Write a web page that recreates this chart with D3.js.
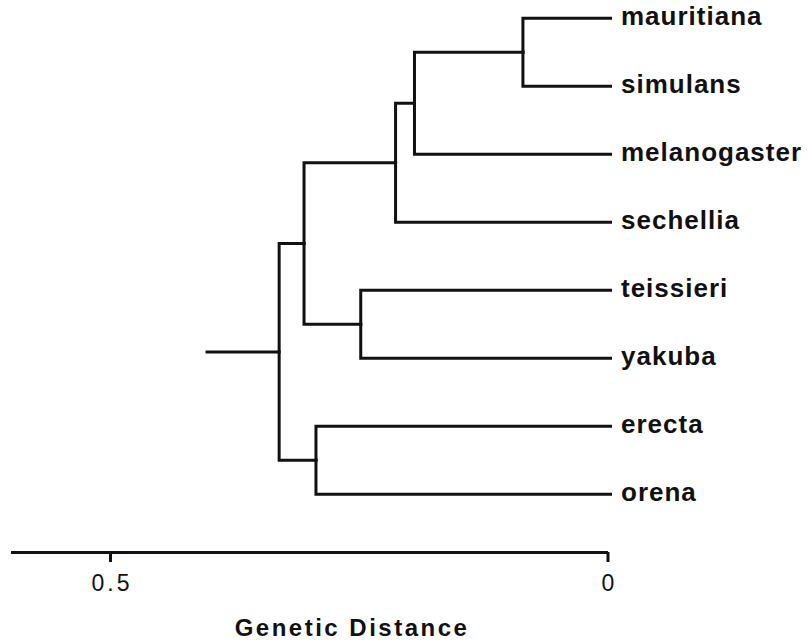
<!DOCTYPE html>
<html>
<head>
<meta charset="utf-8">
<script src="https://cdn.jsdelivr.net/npm/d3@7"></script>
<style>
  body { margin: 0; background: #fff; }
  svg { display: block; }
  .label { font-family: "Liberation Sans", Arial, sans-serif; font-weight: bold; font-size: 26px; letter-spacing: 1px; fill: #111; }
  .axis text { font-family: "Liberation Sans", Arial, sans-serif; font-size: 23px; letter-spacing: 3px; fill: #111; }
  .title { font-family: "Liberation Sans", Arial, sans-serif; font-weight: bold; font-size: 24px; letter-spacing: 2.5px; fill: #111; }
</style>
</head>
<body>
<svg id="chart" width="807" height="641"></svg>
<script>
// leaves, top to bottom
const species = ['mauritiana', 'simulans', 'melanogaster', 'sechellia',
                 'teissieri', 'yakuba', 'erecta', 'orena'];

// internal nodes: name, the two things they join, and their genetic distance
const cladeNames = ['A', 'B', 'C', 'D', 'E', 'F', 'R'];
const cladeChildren = [
  ['mauritiana', 'simulans'],
  ['A', 'melanogaster'],
  ['B', 'sechellia'],
  ['teissieri', 'yakuba'],
  ['C', 'D'],
  ['erecta', 'orena'],
  ['E', 'F']
];
const cladeDistance = [0.085, 0.194, 0.213, 0.248, 0.305, 0.293, 0.330];

// where the stem of the root starts
const rootStem = 0.404;

const axisTicks = [0.5, 0];
const axisDomain = [0.6, 0];

const svg = d3.select('#chart');
const ink = '#111';

// table for stratify
const rows = [];
cladeNames.forEach((name, i) => {
  cladeChildren[i].forEach(c => rows.push({ id: c, parent: name, dist: 0 }));
});
rows.forEach(r => {
  const k = cladeNames.indexOf(r.id);
  if (k >= 0) r.dist = cladeDistance[k];
});
rows.push({ id: 'R', parent: null, dist: cladeDistance[cladeNames.indexOf('R')] });

const root = d3.stratify().id(d => d.id).parentId(d => d.parent)(rows);

// keep leaf order as in the picture
const order = new Map(species.map((s, i) => [s, i]));
const firstLeaf = n => n.children ? Math.min(...n.leaves().map(l => order.get(l.id))) : order.get(n.id);
root.sort((a, b) => firstLeaf(a) - firstLeaf(b));

// cluster gives evenly spaced leaves and parents at the middle of their children
const rowGap = 68;
d3.cluster().nodeSize([rowGap, 1]).separation(() => 1)(root);

const x = d3.scaleLinear().domain(axisDomain).range([10.5, 607.5]);
const yOff = 18.3 - d3.min(root.leaves(), l => l.x);
const leafEnd = x(0) + 3;

const px = n => n.children ? x(n.data.dist) : leafEnd;
const py = n => n.x + yOff;

// branches
svg.append('g')
  .attr('fill', 'none')
  .attr('stroke', ink)
  .attr('stroke-width', 3)
  .attr('stroke-linejoin', 'miter')
  .attr('stroke-linecap', 'square')
  .selectAll('path')
  .data(root.links())
  .join('path')
  .attr('d', l => `M${x(l.source.data.dist)},${py(l.source)}V${py(l.target)}H${px(l.target)}`);

// root stem
svg.append('line')
  .attr('x1', x(rootStem)).attr('x2', x(root.data.dist))
  .attr('y1', py(root)).attr('y2', py(root))
  .attr('stroke', ink).attr('stroke-width', 3);

// species names
svg.append('g')
  .selectAll('text')
  .data(root.leaves())
  .join('text')
  .attr('class', 'label')
  .attr('x', 621)
  .attr('y', d => py(d) + 7)
  .text(d => d.id);

// distance axis
const axis = svg.append('g')
  .attr('class', 'axis')
  .attr('transform', 'translate(0,552)')
  .call(d3.axisBottom(x).tickValues(axisTicks).tickSize(10).tickSizeOuter(0)
    .tickPadding(13).tickFormat(d => String(d)));
axis.select('.domain').attr('stroke', ink).attr('stroke-width', 3);
axis.selectAll('.tick line').attr('stroke', ink).attr('stroke-width', 3);
axis.selectAll('.tick text').attr('fill', ink).attr('font-size', null).attr('font-family', null)
  .attr('dx', 1.5);

svg.append('text')
  .attr('class', 'title')
  .attr('x', 352)
  .attr('y', 636)
  .attr('text-anchor', 'middle')
  .text('Genetic Distance');
</script>
</body>
</html>
